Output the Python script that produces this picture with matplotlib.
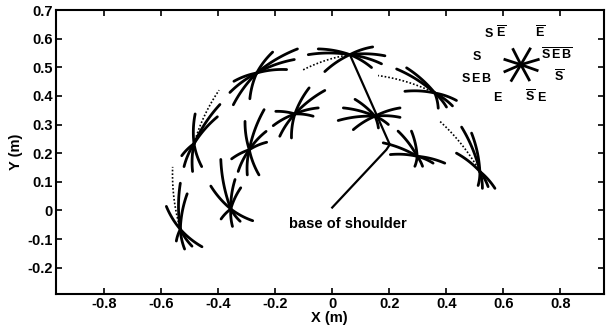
import numpy as np
import matplotlib
matplotlib.use('Agg')
import matplotlib.pyplot as plt

plt.rcParams['font.family'] = ['Liberation Sans', 'DejaVu Sans']
plt.rcParams['mathtext.fontset'] = 'custom'
plt.rcParams['mathtext.rm'] = 'Liberation Sans:bold'
plt.rcParams['mathtext.bf'] = 'Liberation Sans:bold'

# centres of the field "stars" (m)
star_x = [-0.533, -0.356, -0.485, -0.291, -0.265, -0.131, 0.062, 0.150, 0.298, 0.360, 0.518]
star_y = [-0.066, 0.005, 0.233, 0.212, 0.480, 0.337, 0.544, 0.329, 0.189, 0.410, 0.136]

# ray end offsets (dx, dy) per star, first ray of some stars is dotted
rays = [
    [(-0.027, 0.218), (0.0, 0.161), (0.024, 0.124), (-0.049, 0.080), (-0.014, -0.041), (0.015, -0.069), (0.041, -0.059), (0.076, -0.061)],
    [(-0.035, 0.173), (0.015, 0.103), (0.035, 0.074), (-0.070, 0.080), (-0.034, -0.035), (0.006, -0.061), (0.033, -0.043), (0.077, -0.041)],
    [(0.088, 0.187), (0.004, 0.104), (0.091, 0.137), (0.082, 0.094), (-0.043, -0.042), (-0.035, -0.080), (-0.005, -0.097), (0.027, -0.080)],
    [(-0.015, 0.099), (0.052, 0.140), (0.059, 0.064), (0.061, 0.026), (-0.062, -0.032), (-0.039, -0.076), (-0.007, -0.088), (0.034, -0.088)],
    [(0.056, 0.073), (0.143, 0.084), (0.132, 0.047), (0.105, 0.012), (-0.094, -0.068), (-0.080, -0.029), (-0.082, -0.111), (-0.024, -0.090)],
    [(0.050, 0.091), (0.105, 0.082), (0.082, 0.021), (0.064, -0.008), (-0.067, 0.009), (-0.076, -0.041), (-0.053, -0.078), (-0.012, -0.084)],
    [(-0.164, -0.053), (-0.146, 0.0), (-0.088, -0.059), (-0.111, 0.020), (0.080, 0.027), (0.123, -0.004), (0.111, -0.032), (0.076, -0.045)],
    [(-0.070, 0.059), (-0.111, 0.029), (-0.129, -0.015), (-0.076, -0.047), (0.088, 0.029), (0.088, -0.004), (0.047, -0.029), (0.012, -0.041)],
    [(-0.067, 0.088), (-0.020, 0.088), (-0.094, 0.006), (-0.119, 0.047), (0.097, -0.024), (0.056, -0.024), (0.019, -0.035), (-0.008, -0.035)],
    [(-0.199, 0.061), (-0.134, 0.084), (-0.099, 0.088), (-0.105, 0.006), (0.076, -0.026), (0.062, -0.045), (0.041, -0.049), (0.012, -0.053)],
    [(-0.140, 0.175), (-0.064, 0.155), (-0.029, 0.134), (-0.082, 0.064), (0.053, -0.059), (0.029, -0.053), (0.009, -0.059), (-0.006, -0.049)],
]
dotted_first = [True, False, True, False, False, False, True, False, False, True, True]

# arm drawn to the base of the shoulder
arm_x = [0.062, 0.202, 0.190, 0.0]
arm_y = [0.544, 0.230, 0.212, 0.010]

# key star
key_x, key_y = 0.662, 0.509
key_rays = [(0.032, 0.055), (0.061, 0.018), (0.057, -0.020), (0.029, -0.053),
            (-0.033, -0.055), (-0.056, -0.024), (-0.056, 0.018), (-0.027, 0.053)]
key_labels = [r'$\mathbf{S}\ \overline{\mathbf{E}}$', r'$\overline{\mathbf{E}}$',
              r'$\mathbf{S}$', r'$\overline{\mathbf{S}}\,\overline{\mathbf{E}}\,\overline{\mathbf{B}}$',
              r'$\mathbf{S\,E\,B}$', r'$\overline{\mathbf{S}}$',
              r'$\mathbf{E}$', r'$\overline{\mathbf{S}}\ \mathbf{E}$']
key_lx = [0.571, 0.729, 0.507, 0.787, 0.507, 0.795, 0.583, 0.717]
key_ly = [0.620, 0.620, 0.539, 0.545, 0.460, 0.468, 0.393, 0.395]

xticks = [-0.8, -0.6, -0.4, -0.2, 0, 0.2, 0.4, 0.6, 0.8]
xlabels = ['-0.8', '-0.6', '-0.4', '-0.2', '0', '0.2', '0.4', '0.6', '0.8']
yticks = [-0.2, -0.1, 0, 0.1, 0.2, 0.3, 0.4, 0.5, 0.6, 0.7]
ylabels = ['-0.2', '-0.1', '0', '0.1', '0.2', '0.3', '0.4', '0.5', '0.6', '0.7']


def curved(cx, cy, dx, dy, bulge=0.08):
    # quadratic curve bowing away from the shoulder base
    n = np.array([-dy, dx])
    mid = np.array([cx + dx / 2, cy + dy / 2])
    if np.dot(n, mid) < 0:
        n = -n
    ctrl = mid + n * bulge
    t = np.linspace(0, 1, 20)
    px = (1 - t) ** 2 * cx + 2 * (1 - t) * t * ctrl[0] + t ** 2 * (cx + dx)
    py = (1 - t) ** 2 * cy + 2 * (1 - t) * t * ctrl[1] + t ** 2 * (cy + dy)
    return px, py


fig = plt.figure(figsize=(6.06, 3.29), dpi=100)
ax = fig.add_axes([0.0916, 0.1055, 0.9043, 0.8641])

for i in range(len(star_x)):
    for j, (dx, dy) in enumerate(rays[i]):
        px, py = curved(star_x[i], star_y[i], dx, dy)
        if j == 0 and dotted_first[i]:
            ax.plot(px, py, color='k', lw=1.2, ls=(0, (1, 1.2)))
        else:
            ax.plot(px, py, color='k', lw=2.0, solid_capstyle='round')

ax.plot(arm_x, arm_y, color='k', lw=1.6)
ax.text(-0.152, -0.047, 'base of shoulder', fontsize=10.5, fontweight='bold',
        va='center', ha='left')

for dx, dy in key_rays:
    ax.plot([key_x, key_x + dx], [key_y, key_y + dy], color='k', lw=2.0)
for lab, lx, ly in zip(key_labels, key_lx, key_ly):
    ax.text(lx, ly, lab, fontsize=9, ha='center', va='center')

ax.set_xlim(-0.971, 0.952)
ax.set_ylim(-0.293, 0.7)
ax.set_xticks(xticks)
ax.set_xticklabels(xlabels, fontweight='bold', fontsize=10.5)
ax.set_yticks(yticks)
ax.set_yticklabels(ylabels, fontweight='bold', fontsize=10.5)
ax.tick_params(direction='in', length=4, width=1.2, top=True, right=True, pad=2)
for s in ax.spines.values():
    s.set_linewidth(1.5)
ax.set_xlabel('X (m)', fontweight='bold', fontsize=10.5, labelpad=0)
ax.set_ylabel('Y (m)', fontweight='bold', fontsize=10.5, labelpad=3)

fig.savefig('out.png', dpi=100)
